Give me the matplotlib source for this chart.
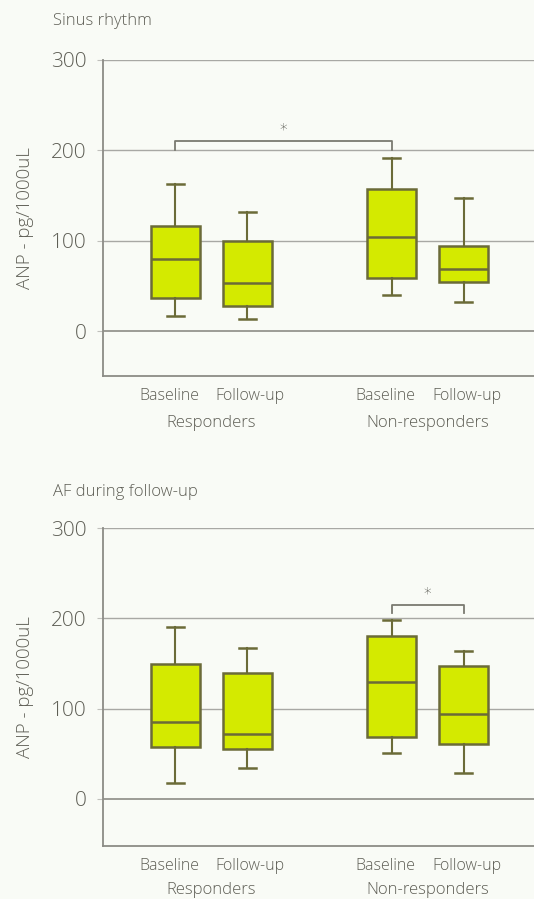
import matplotlib
matplotlib.use("Agg")
import matplotlib.pyplot as plt
from matplotlib.transforms import ScaledTranslation

plt.rcParams["font.family"] = ["Open Sans", "DejaVu Sans"]
plt.rcParams["font.weight"] = "light"

groups = ["Baseline", "Follow-up", "Baseline", "Follow-up"]
group_names = ["Responders", "Non-responders"]

# box stats per panel: whisker low, Q1, median, Q3, whisker high
sinus_low = [17, 14, 40, 33]
sinus_q1 = [37, 28, 59, 55]
sinus_med = [80, 54, 104, 69]
sinus_q3 = [117, 100, 157, 94]
sinus_high = [163, 132, 192, 148]

af_low = [18, 34, 51, 29]
af_q1 = [58, 55, 69, 61]
af_med = [85, 72, 130, 94]
af_q3 = [150, 140, 181, 147]
af_high = [191, 167, 198, 164]

positions = [1, 2, 4, 5]
fill = "#d4ea00"
edge = "#6b6b38"
text_col = "#5e5e55"
grid_col = "#a8a8a4"
bg = "#f9fbf6"


def make_stats(low, q1, med, q3, high):
    return [dict(whislo=a, q1=b, med=c, q3=d, whishi=e, fliers=[])
            for a, b, c, d, e in zip(low, q1, med, q3, high)]


def panel(ax, stats, ymin, title, sig, group_off, title_off):
    ax.set_facecolor(bg)
    ax.set_xlim(0, 6.07)
    ax.set_ylim(ymin, 300)
    for v in [100, 200, 300]:
        ax.axhline(v, color=grid_col, lw=1.0, zorder=0)
    ax.axhline(0, color="#8c8c86", lw=1.2, zorder=0)
    ax.bxp(stats, positions=positions, widths=0.68, patch_artist=True,
           showfliers=False,
           boxprops=dict(facecolor=fill, edgecolor=edge, linewidth=1.8),
           medianprops=dict(color=edge, linewidth=1.8),
           whiskerprops=dict(color=edge, linewidth=1.5),
           capprops=dict(color=edge, linewidth=1.8),
           capwidths=0.24, zorder=2)

    ax.spines["top"].set_visible(False)
    ax.spines["right"].set_visible(False)
    for s in ["left", "bottom"]:
        ax.spines[s].set_color("#8c8c86")
        ax.spines[s].set_linewidth(1.3)
    ax.spines["left"].set_bounds(ymin, 300)

    ax.set_yticks([0, 100, 200, 300])
    ax.tick_params(axis="y", length=4, color="#c0c0bc", labelsize=15,
                   labelcolor=text_col, pad=8)
    ax.set_xticks(positions)
    ax.set_xticklabels(groups)
    ax.tick_params(axis="x", length=0, labelsize=11.5, labelcolor=text_col, pad=9)
    # nudge the pair labels apart a little
    for lab, dx in zip(ax.get_xticklabels(), [-6, 3, -6, 3]):
        lab.set_transform(lab.get_transform()
                          + ScaledTranslation(dx / 100, 0, fig.dpi_scale_trans))
    for i, name in enumerate(group_names):
        ax.annotate(name, xy=((positions[2 * i] + positions[2 * i + 1]) / 2, 0),
                    xycoords=("data", "axes fraction"), xytext=(0, -group_off),
                    textcoords="offset points", ha="center", va="center",
                    fontsize=12, color=text_col)
    ax.set_ylabel("ANP - pg/1000uL", fontsize=13.5, color=text_col,
                  labelpad=12, fontweight="light")
    ax.annotate(title, xy=(0, 1), xycoords="axes fraction",
                xytext=(-36, title_off), textcoords="offset points",
                ha="left", va="center", fontsize=12, color=text_col)

    # significance bracket
    x0, x1, ytop, ydrop = sig
    ax.plot([x0, x0, x1, x1], [ydrop, ytop, ytop, ydrop], color="#7a7a70",
            lw=1.3, zorder=3)
    ax.text((x0 + x1) / 2, ytop + 4, "*", ha="center", va="bottom",
            fontsize=11, color="#4a4a42", family="DejaVu Sans")


fig = plt.figure(figsize=(5.34, 8.99), dpi=100, facecolor=bg)
ax1 = fig.add_axes([0.193, 0.582, 0.82, 0.3513])
ax2 = fig.add_axes([0.193, 0.0593, 0.82, 0.353])

panel(ax1, make_stats(sinus_low, sinus_q1, sinus_med, sinus_q3, sinus_high),
      -49, "Sinus rhythm", (1, 4, 210, 201), 34, 28)
panel(ax2, make_stats(af_low, af_q1, af_med, af_q3, af_high),
      -52, "AF during follow-up", (4, 5, 215, 206), 32, 26)

fig.savefig("out.png", dpi=100, facecolor=bg)
